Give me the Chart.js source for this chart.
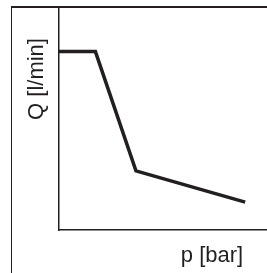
<!DOCTYPE html>
<html>
<head>
<meta charset="utf-8">
<script src="https://cdn.jsdelivr.net/npm/chart.js@4/dist/chart.umd.min.js"></script>
<style>
  html, body { margin: 0; padding: 0; background: #fff; }
  #wrap { position: relative; width: 267px; height: 273px; overflow: hidden; }
  #frame {
    position: absolute; left: 11px; top: 6px; width: 260px; height: 270px;
    border-top: 2.5px solid #231f20; border-left: 1.5px solid #231f20;
  }
  #c { position: absolute; left: 0; top: 0; }
</style>
</head>
<body>
<div id="wrap">
  <div id="frame"></div>
  <canvas id="c" width="267" height="273"></canvas>
</div>
<script>
// values (arbitrary units, axes have no ticks)
const pressure = [0, 1.75, 3.7, 8.95];
const flow = [8, 8, 2.65, 1.25];
const xTitle = 'p [bar]';
const yTitle = 'Q [l/min]';

const ink = '#231f20';

const labelsPlugin = {
  id: 'axisLabels',
  afterDraw(chart) {
    const { ctx, chartArea } = chart;
    ctx.save();
    ctx.fillStyle = ink;
    ctx.font = '22px "Liberation Sans", Arial, sans-serif';
    ctx.textAlign = 'center';
    ctx.textBaseline = 'alphabetic';
    ctx.fillText(xTitle, chartArea.right - 55, chartArea.bottom + 32);
    ctx.translate(chartArea.left - 16, chartArea.top + 72);
    ctx.rotate(-Math.PI / 2);
    ctx.fillText(yTitle, 0, 0);
    ctx.restore();
  }
};

new Chart(document.getElementById('c'), {
  type: 'scatter',
  data: {
    datasets: [{
      data: pressure.map((p, i) => ({ x: p, y: flow[i] })),
      showLine: true,
      borderColor: ink,
      borderWidth: 3.5,
      pointRadius: 0,
      tension: 0
    }]
  },
  options: {
    responsive: false,
    animation: false,
    layout: { padding: { left: 59, top: 7, right: 0, bottom: 43 } },
    plugins: { legend: { display: false }, tooltip: { enabled: false } },
    scales: {
      x: {
        min: 0, max: 10,
        grid: { display: false, drawTicks: false },
        ticks: { display: false },
        border: { display: true, color: ink, width: 1.5 }
      },
      y: {
        min: 0, max: 10,
        grid: { display: false, drawTicks: false },
        ticks: { display: false },
        border: { display: true, color: ink, width: 1.5 }
      }
    }
  },
  plugins: [labelsPlugin]
});
</script>
</body>
</html>
